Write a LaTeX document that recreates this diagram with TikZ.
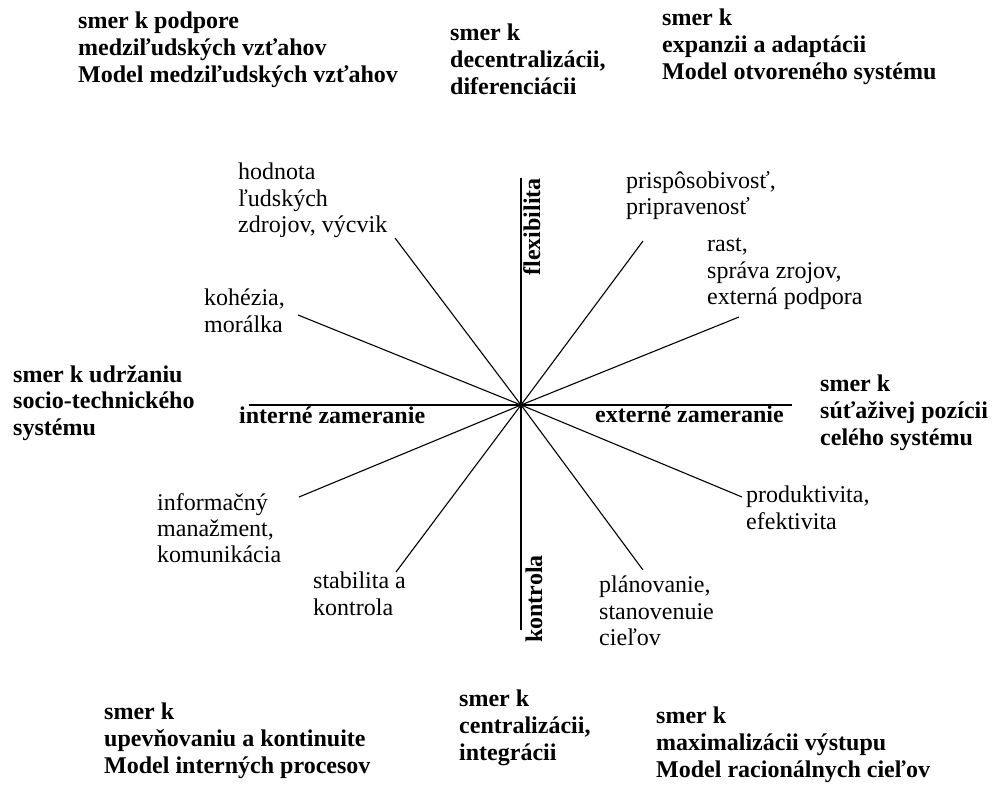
\documentclass[tikz,border=0pt]{standalone}
\usepackage{fontspec}
\setmainfont{Liberation Serif}
\begin{document}
\begin{tikzpicture}[x=1pt,y=-1pt,
  heading/.style={anchor=north west, inner sep=0pt, align=left,
    font=\fontsize{24}{26.8}\selectfont\bfseries,
    execute at begin node={\rule{0pt}{19pt}}},
  factor/.style={heading, font=\fontsize{24}{26.3}\selectfont},
  axislabel/.style={inner sep=0pt, font=\fontsize{24}{26.8}\selectfont\bfseries},
  axisline/.style={line width=1.6pt},
  spoke/.style={line width=1.1pt}]
\useasboundingbox (0,0) rectangle (992,785);
\fill[white] (0,0) rectangle (992,785);

% axes
\coordinate (O) at (521,405);
\coordinate (axN) at (521,178);
\coordinate (axS) at (521,630);
\coordinate (axW) at (249,405);
\coordinate (axE) at (792,405);
\draw[axisline] (axW) -- (axE);
\draw[axisline] (axN) -- (axS);

% spoke ends
\coordinate (sHod) at (395,238);
\coordinate (sKoh) at (298,315);
\coordinate (sPri) at (643,241);
\coordinate (sRas) at (739,317);
\coordinate (sInf) at (299,497);
\coordinate (sSta) at (396,572);
\coordinate (sPro) at (742,497);
\coordinate (sPla) at (643,570);
\foreach \e in {sHod,sKoh,sPri,sRas,sInf,sSta,sPro,sPla}
  \draw[spoke] (O) -- (\e);

% axis labels
\node[axislabel, anchor=base west] (intern) at (239,423) {interné zameranie};
\node[axislabel, anchor=base west] (extern) at (595,422) {externé zameranie};
\node[axislabel, anchor=base east, rotate=90] (flex) at (540,178) {flexibilita};
\node[axislabel, anchor=base east, rotate=90] (kontr) at (542,555) {kontrola};

% directions
\node[heading] (tl) at (78,12) {smer k podpore\\medziľudských vzťahov\\Model medziľudských vzťahov};
\node[heading] (tc) at (450,24) {smer k\\decentralizácii,\\diferenciácii};
\node[heading] (tr) at (662,9) {smer k\\expanzii a adaptácii\\Model otvoreného systému};
\node[heading] (ml) at (13,365) {smer k udržaniu\\socio-technického\\systému};
\node[heading] (mr) at (820,375) {smer k\\súťaživej pozícii\\celého systému};
\node[heading] (bl) at (104,703) {smer k\\upevňovaniu a kontinuite\\Model interných procesov};
\node[heading] (bc) at (459,690) {smer k\\centralizácii,\\integrácii};
\node[heading] (br) at (656,707) {smer k\\maximalizácii výstupu\\Model racionálnych cieľov};

% criteria at the spoke ends
\node[factor] (hod) at (238,163) {hodnota\\ľudských\\zdrojov, výcvik};
\node[factor] (koh) at (204,289) {kohézia,\\morálka};
\node[factor] (pri) at (626,171) {prispôsobivosť,\\pripravenosť};
\node[factor] (ras) at (707,238) {rast,\\správa zrojov,\\externá podpora};
\node[factor] (inf) at (157,493) {informačný\\manažment,\\komunikácia};
\node[factor] (sta) at (313,572) {stabilita a\\kontrola};
\node[factor] (pro) at (746,486) {produktivita,\\efektivita};
\node[factor] (pla) at (599,576) {plánovanie,\\stanovenuie\\cieľov};
\end{tikzpicture}
\end{document}
